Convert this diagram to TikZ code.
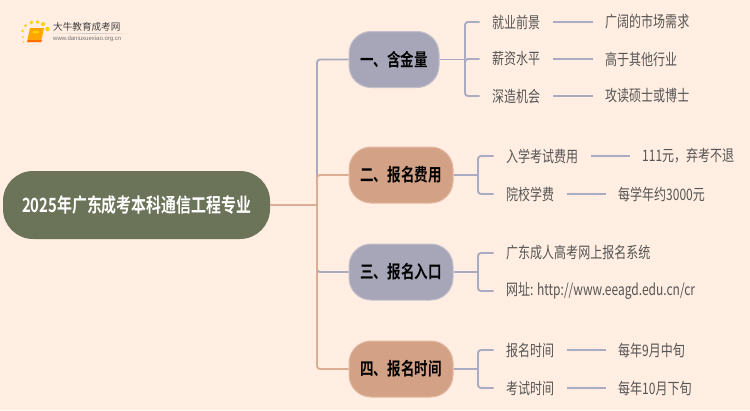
\documentclass[tikz,border=0pt]{standalone}
\usepackage{fontspec}
\setmainfont{Liberation Sans}
\newfontfamily\cjk[FakeStretch=0.76,BoldFont={Noto Sans CJK SC Bold}]{Noto Sans CJK SC}
\newfontfamily\cjklogo{Noto Sans CJK SC}
\definecolor{bgc}{HTML}{FFEEE1}
\definecolor{lav}{HTML}{A9ABC2}
\definecolor{sal}{HTML}{DDAD93}
\definecolor{lavfill}{HTML}{A7A6B8}
\definecolor{salfill}{HTML}{D3A185}
\definecolor{rootfill}{HTML}{6B7358}
\definecolor{txt}{HTML}{555555}
\tikzset{
  topic/.style={rounded corners=22pt,minimum height=56pt,inner sep=0pt,font=\cjk\bfseries\fontsize{17.8}{18}\selectfont,text=black,line width=1pt},
  lavtopic/.style={topic,fill=lavfill,draw=lav!70!bgc},
  saltopic/.style={topic,fill=salfill,draw=sal!80!bgc},
  leaf/.style={anchor=west,inner ysep=0pt,inner xsep=12.5pt,text=txt,font=\cjk\fontsize{15.8}{17}\selectfont},
  lavline/.style={draw=lav,line width=1.9pt,rounded corners=3pt},
  salline/.style={draw=sal,line width=1.9pt,rounded corners=3pt}
}
\begin{document}
\begin{tikzpicture}[x=1pt,y=-1pt]
\path[use as bounding box,fill=bgc] (0,0) rectangle (750,410);
% logo
\fill[orange!70!yellow] (30,28) -- (44,28) -- (41,42) -- (27,42) -- cycle;
\fill[orange!85!red] (27,42) -- (41,42) -- (42,40) -- (28,40) -- cycle;
\fill[yellow!70!orange] (33,31) -- (39,31) -- (38.5,33) -- (32.5,33) -- cycle;
\foreach \p/\r in {{(22.5,31)/1.3},{(25.5,25.5)/1.5},{(31.5,22.5)/1.8},{(37.5,22)/1.9},{(43,24)/2},{(47.5,29)/2.2},{(23,37)/1},{(23.5,42)/.8}}{
  \fill[yellow!70!orange] \p circle (\r);
}
\node[anchor=west,inner sep=0pt,text=black!75,font=\cjklogo\fontsize{9.6}{10}\selectfont] (logot) at (53,27) {大牛教育成考网};
\node[anchor=west,inner sep=0pt,text=black!55,font=\fontsize{6}{7}\selectfont] (logou) at (53,38.5) {www.daniuxuexiao.org.cn};
\shade[left color=bgc,right color=bgc,middle color=black!22] (50,33) rectangle (133,33.7);
% nodes
\node[fill=rootfill,rounded corners=30pt,minimum width=267pt,minimum height=68pt,inner sep=0pt,text=white,font=\cjk\bfseries\fontsize{19.6}{20}\selectfont] (root) at (136.5,205) {2025年广东成考本科通信工程专业};
\node[lavtopic,minimum width=90pt] (t1) at (394,59.5) {一、含金量};
\node[saltopic,minimum width=104pt] (t2) at (401,175) {二、报名费用};
\node[lavtopic,minimum width=104pt] (t3) at (401,272) {三、报名入口};
\node[saltopic,minimum width=104pt] (t4) at (401,369) {四、报名时间};
\coordinate (trunk) at (317,205);
\coordinate (j1) at (465,59.5);
\coordinate (j2) at (478,175);
\coordinate (j3) at (478,272);
\coordinate (j4) at (478,369);
% leaves
\node[leaf] (a1) at (479.5,22) {就业前景};
\node[leaf] (a2) at (479.5,59) {薪资水平};
\node[leaf] (a3) at (479.5,96) {深造机会};
\node[leaf] (v1) at (592.5,22) {广阔的市场需求};
\node[leaf] (v2) at (592.5,59) {高于其他行业};
\node[leaf] (v3) at (592.5,96) {攻读硕士或博士};
\node[leaf] (b1) at (493.5,156) {入学考试费用};
\node[leaf] (w1) at (629.5,156) {111元，弃考不退};
\node[leaf] (b2) at (493.5,194) {院校学费};
\node[leaf] (w2) at (605.5,194) {每学年约3000元};
\node[leaf] (c1) at (493.5,253) {广东成人高考网上报名系统};
\node[leaf] (c2) at (493.5,291) {网址: http://www.eeagd.edu.cn/cr};
\node[leaf] (d1) at (493.5,350) {报名时间};
\node[leaf] (x1) at (605.5,350) {每年9月中旬};
\node[leaf] (d2) at (493.5,388) {考试时间};
\node[leaf] (x2) at (605.5,388) {每年10月下旬};
% connectors
\draw[salline] (root.east) -- (trunk);
\draw[lavline] (trunk) |- (t1.west);
\draw[salline] (trunk) |- (t2.west);
\draw[lavline] (trunk) |- (t3.west);
\draw[salline] (trunk) |- (t4.west);
\foreach \t/\j in {t1/j1,t2/j2,t3/j3,t4/j4}{\draw[lavline] (\t.east) -- (\j);}
\foreach \j/\l in {j1/a1,j1/a2,j1/a3,j2/b1,j2/b2,j3/c1,j3/c2,j4/d1,j4/d2}{\draw[lavline] (\j) |- (\l.west);}
\foreach \a/\b in {a1/v1,a2/v2,a3/v3,b1/w1,b2/w2,d1/x1,d2/x2}{\draw[lavline] (\a.east) -- (\b.west);}
\end{tikzpicture}
\end{document}
